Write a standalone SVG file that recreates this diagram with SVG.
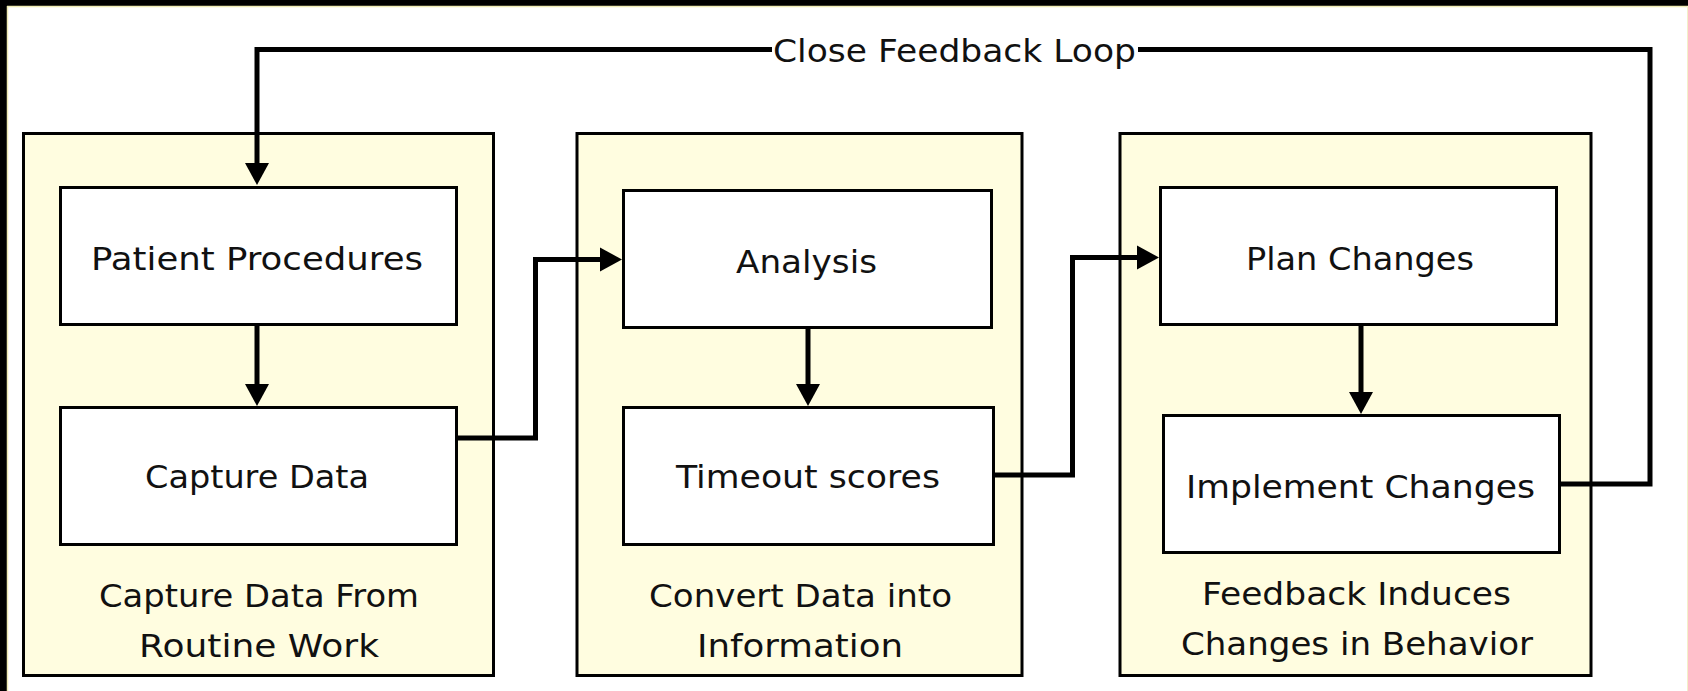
<svg xmlns="http://www.w3.org/2000/svg" width="1688" height="691" viewBox="0 0 1688 691">
<defs>
<style>
.grp{fill:#FFFDE0;stroke:#000;stroke-width:3}
.box{fill:#FFFFFF;stroke:#000;stroke-width:3}
.t{font-family:"DejaVu Sans","Liberation Sans",sans-serif;font-size:32px;fill:#111;text-anchor:middle}
.c{fill:none;stroke:#000;stroke-width:5;stroke-linejoin:miter}
</style>
<marker id="arr" markerUnits="userSpaceOnUse" markerWidth="22" markerHeight="24" refX="0" refY="12" orient="auto" overflow="visible">
<path d="M0,0 L22,12 L0,24 Z" fill="#000"/>
</marker>
</defs>
<rect x="0" y="0" width="1688" height="691" fill="#FFFFFF"/>
<g id="frame">
<rect x="0" y="0" width="1688" height="6" fill="#000"/>
<rect x="0" y="0" width="7" height="691" fill="#000"/>
<line x1="7" y1="6.5" x2="1688" y2="6.5" stroke="#EFEBB5" stroke-width="1.5"/>
<line x1="7.5" y1="6" x2="7.5" y2="691" stroke="#EFEBB5" stroke-width="1.5"/>
<line x1="1687.5" y1="6" x2="1687.5" y2="691" stroke="#F3F0C8" stroke-width="1"/>
</g>
<g id="group-capture">
<rect class="grp" x="23.5" y="133.5" width="470" height="542"/>
<text class="t" x="259" y="607" textLength="320" lengthAdjust="spacingAndGlyphs">Capture Data From</text>
<text class="t" x="259" y="657" textLength="240" lengthAdjust="spacingAndGlyphs">Routine Work</text>
</g>
<g id="group-convert">
<rect class="grp" x="577" y="133.5" width="445" height="542"/>
<text class="t" x="800.5" y="607" textLength="303" lengthAdjust="spacingAndGlyphs">Convert Data into</text>
<text class="t" x="800" y="657" textLength="206" lengthAdjust="spacingAndGlyphs">Information</text>
</g>
<g id="group-feedback">
<rect class="grp" x="1120" y="133.5" width="471" height="542"/>
<text class="t" x="1356.5" y="605" textLength="309" lengthAdjust="spacingAndGlyphs">Feedback Induces</text>
<text class="t" x="1357" y="655" textLength="352" lengthAdjust="spacingAndGlyphs">Changes in Behavior</text>
</g>
<g id="patient-procedures">
<rect class="box" x="60.5" y="187.5" width="396" height="137"/>
<text class="t" x="257" y="270" textLength="332" lengthAdjust="spacingAndGlyphs">Patient Procedures</text>
</g>
<g id="capture-data">
<rect class="box" x="60.5" y="407.5" width="396" height="137"/>
<text class="t" x="257" y="488" textLength="224" lengthAdjust="spacingAndGlyphs">Capture Data</text>
</g>
<g id="analysis">
<rect class="box" x="623.5" y="190.5" width="368" height="137"/>
<text class="t" x="806.5" y="273" textLength="141" lengthAdjust="spacingAndGlyphs">Analysis</text>
</g>
<g id="timeout-scores">
<rect class="box" x="623.5" y="407.5" width="370" height="137"/>
<text class="t" x="808" y="488" textLength="264" lengthAdjust="spacingAndGlyphs">Timeout scores</text>
</g>
<g id="plan-changes">
<rect class="box" x="1160.5" y="187.5" width="396" height="137"/>
<text class="t" x="1360" y="270" textLength="228" lengthAdjust="spacingAndGlyphs">Plan Changes</text>
</g>
<g id="implement-changes">
<rect class="box" x="1163.5" y="415.5" width="396" height="137"/>
<text class="t" x="1360.5" y="498" textLength="349" lengthAdjust="spacingAndGlyphs">Implement Changes</text>
</g>
<g id="connectors">
<path class="c" d="M1561,484 H1650 V49.5 H1138"/>
<path class="c" d="M772,49.5 H257 V163" marker-end="url(#arr)"/>
<text class="t" x="954.5" y="62" textLength="363" lengthAdjust="spacingAndGlyphs">Close Feedback Loop</text>
<path class="c" d="M257,326 V384" marker-end="url(#arr)"/>
<path class="c" d="M458,438 H535.5 V259.5 H600" marker-end="url(#arr)"/>
<path class="c" d="M808,329 V384" marker-end="url(#arr)"/>
<path class="c" d="M995,475 H1072.5 V257.5 H1137" marker-end="url(#arr)"/>
<path class="c" d="M1361,326 V392" marker-end="url(#arr)"/>
</g>
</svg>
